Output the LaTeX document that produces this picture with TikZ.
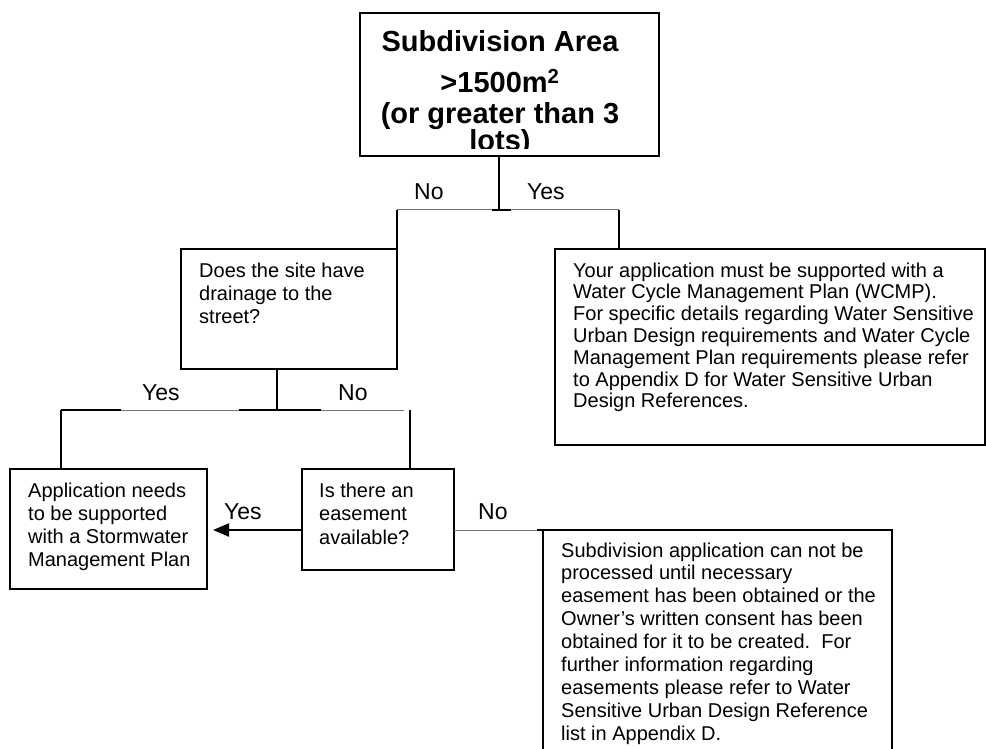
\documentclass[tikz,border=0pt]{standalone}
\usepackage{fontspec}
\setmainfont{Liberation Sans}
\usetikzlibrary{arrows.meta}
\begin{document}
\begin{tikzpicture}[x=1pt,y=-1pt,
  box/.style={draw=black, line width=1.8pt, anchor=north west, inner sep=0pt, outer sep=0pt},
  vline/.style={line width=2pt, black},
  hline/.style={line width=1pt, black!55},
  tbar/.style={line width=2.4pt, black},
  txt/.style={anchor=base west, inner sep=0pt, font=\fontsize{20}{23.3}\selectfont},
  lbl/.style={anchor=base west, inner sep=0pt, font=\fontsize{23}{27}\selectfont},
]
\useasboundingbox (0,0) rectangle (986,749);
\clip (0,0) rectangle (986,749);

% top box text (clipped short of the box bottom)
\begin{scope}
  \clip (361,14) rectangle (658,149);
  \node[anchor=base, inner sep=0pt, font=\bfseries\fontsize{29}{31}\selectfont] (toptext) at (500,52)
    {\begin{tabular}[t]{@{}c@{}}Subdivision Area\\[8pt] >1500m\textsuperscript{2}\\ (or greater than 3\\[-4pt] lots)\end{tabular}};
\end{scope}
\node[box, minimum width=299pt, minimum height=143pt] (top) at (360,13) {};

% boxes
\node[box, minimum width=216pt, minimum height=120pt] (q1) at (181,249) {};
\node[box, minimum width=430pt, minimum height=196pt] (wcmp) at (555,249) {};
\node[box, minimum width=197pt, minimum height=120pt] (swmp) at (10,469) {};
\node[box, minimum width=152pt, minimum height=101pt] (ease) at (302,469) {};
\node[box, minimum width=349pt, minimum height=260pt] (cannot) at (543,530) {};

% box texts
\node[txt] (q1t) at (199,277) {\begin{tabular}[t]{@{}l@{}}Does the site have\\ drainage to the\\ street?\end{tabular}};
\node[txt, font=\fontsize{20}{21.8}\selectfont] (wcmpt) at (573,277) {\begin{tabular}[t]{@{}l@{}}Your application must be supported with a\\ Water Cycle Management Plan (WCMP).\\ For specific details regarding Water Sensitive\\ Urban Design requirements and Water Cycle\\ Management Plan requirements please refer\\ to Appendix D for Water Sensitive Urban\\ Design References.\end{tabular}};
\node[txt] (swmpt) at (28,497) {\begin{tabular}[t]{@{}l@{}}Application needs\\ to be supported\\ with a Stormwater\\ Management Plan\end{tabular}};
\node[txt, font=\fontsize{20}{23.5}\selectfont] (easet) at (319,497) {\begin{tabular}[t]{@{}l@{}}Is there an\\ easement\\ available?\end{tabular}};
\node[txt, font=\fontsize{20}{22.9}\selectfont] (cannott) at (561,557) {\begin{tabular}[t]{@{}l@{}}Subdivision application can not be\\ processed until necessary\\ easement has been obtained or the\\ Owner’s written consent has been\\ obtained for it to be created.\ \ For\\ further information regarding\\ easements please refer to Water\\ Sensitive Urban Design Reference\\ list in Appendix D.\end{tabular}};

% first split
\coordinate (j1) at (499,210);
\coordinate (l1) at (397,210);
\coordinate (r1) at (619,210);
\draw[hline] (l1) -- (r1);
\draw[vline] (j1 |- top.south) -- (j1);
\draw[tbar] ([xshift=-7pt]j1) -- ([xshift=12pt]j1);
\draw[vline] (l1) -- (l1 |- q1.north);
\draw[vline] (r1) -- (r1 |- wcmp.north);
\node[lbl] (no1) at (414,200) {No};
\node[lbl] (yes1) at (527,200) {Yes};

% second split
\coordinate (j2) at (277,410);
\coordinate (l2) at (61,410);
\coordinate (r2) at (404,410);
\coordinate (r2b) at (410,410);
\draw[hline] (l2) -- (r2);
\draw[tbar] (l2) -- (121,410);
\draw[tbar] (239,410) -- (321,410);
\draw[vline] (j2 |- q1.south) -- (j2);
\draw[vline] (l2) -- (l2 |- swmp.north);
\draw[vline] (r2b) -- (r2b |- ease.north);
\node[lbl] (yes2) at (142,400) {Yes};
\node[lbl] (no2) at (338,400) {No};

% easement decision
\coordinate (tip) at (213,530);
\draw[vline, -{Triangle[length=16pt,width=13pt]}] (ease.west |- tip) -- (tip);
\node[lbl] (yes3) at (224,519) {Yes};
\coordinate (n3) at (537,530);
\draw[hline] (ease.east |- n3) -- (n3);
\draw[vline] (n3) -- (cannot.north west);
\node[lbl] (no3) at (478,519) {No};
\end{tikzpicture}
\end{document}
